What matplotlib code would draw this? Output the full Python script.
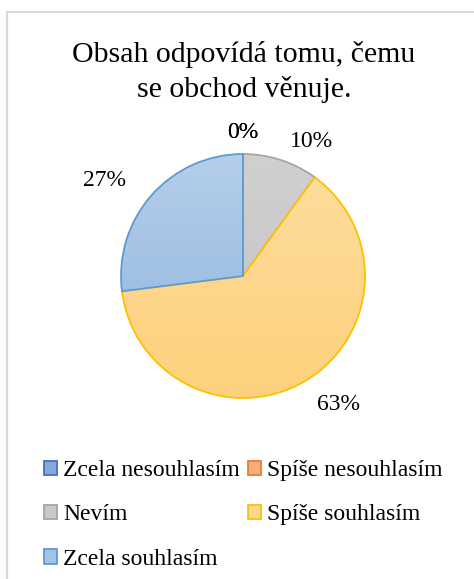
import numpy as np
import matplotlib.pyplot as plt
from matplotlib.colors import to_rgb
from matplotlib.patches import Patch, Rectangle

plt.rcParams["font.family"] = ["Liberation Serif", "DejaVu Serif"]

title = "Obsah odpovídá tomu, čemu\nse obchod věnuje."
categories = ["Zcela nesouhlasím", "Spíše nesouhlasím", "Nevím",
              "Spíše souhlasím", "Zcela souhlasím"]
values = [0, 0, 10, 63, 27]
pct_labels = ["0%", "0%", "10%", "63%", "27%"]

edge_colors = ["#4472C4", "#ED7D31", "#A5A5A5", "#FFC000", "#5B9BD5"]
fill_top = ["#9bb3e2", "#f6bc96", "#d0d0d0", "#fedd9f", "#b5cfeb"]
fill_bottom = ["#6f8fd0", "#f0995f", "#c2c2c2", "#fdd17c", "#8db2de"]
fill_mid = ["#8aa5da", "#f4ad7f", "#c9c9c9", "#fed78e", "#a3c2e6"]

# label placement: radial distance (x radius) and angle nudge in degrees
label_dist = [1.18, 1.18, 1.24, 1.31, 1.38]
label_nudge = [0, 0, -9, 6, 7]

W, H = 474, 579
fig = plt.figure(figsize=(W / 100, H / 100), dpi=100)
ax = fig.add_axes([0, 0, 1, 1])

cx, cy, r = 243, H - 276, 122
wedges, _ = ax.pie(values, startangle=90, counterclock=False, radius=r,
                   center=(cx, cy), frame=True,
                   wedgeprops=dict(linewidth=1.3))
ax.set_xlim(0, W)
ax.set_ylim(0, H)
ax.axis("off")

# chart frame (only top and left edges visible)
ax.add_patch(Rectangle((7.5, -20), 600, H - 11.5 + 20, fill=False,
                       edgecolor="#d9d9d9", linewidth=1.6, zorder=0))

grad = np.linspace(0, 1, 256)[:, None, None]
for i, w in enumerate(wedges):
    top = np.array(to_rgb(fill_top[i]))
    bot = np.array(to_rgb(fill_bottom[i]))
    img = top * (1 - grad) + bot * grad
    im = ax.imshow(img, extent=(cx - r, cx + r, cy - r, cy + r), origin="upper",
                   aspect="auto", zorder=2 * i + 1, interpolation="bilinear")
    im.set_clip_path(w)
    w.set_facecolor("none")
    w.set_edgecolor(edge_colors[i])
    w.set_zorder(2 * i + 2)

for i, w in enumerate(wedges):
    mid = np.deg2rad((w.theta1 + w.theta2) / 2 + label_nudge[i])
    d = label_dist[i] * r
    ax.text(cx + d * np.cos(mid), cy + d * np.sin(mid), pct_labels[i],
            ha="center", va="center", fontsize=17, zorder=20)

ax.text(244, H - 72, title, ha="center", va="center", fontsize=21.5,
        linespacing=1.38)

handles = [Patch(facecolor=fill_mid[i], edgecolor=edge_colors[i], linewidth=1.3)
           for i in range(len(categories))]
# legend is filled row by row in the reference
order = [0, 2, 4, 1, 3]
leg = ax.legend([handles[k] for k in order], [categories[k] for k in order],
                ncol=2, loc="upper left",
                bbox_to_anchor=(44 / W, (H - 460) / H), frameon=False,
                fontsize=17, handlelength=0.55, handleheight=0.55,
                handletextpad=0.25, columnspacing=0.35, labelspacing=0.99,
                borderpad=0, borderaxespad=0)

fig.savefig("out.png", dpi=100)
